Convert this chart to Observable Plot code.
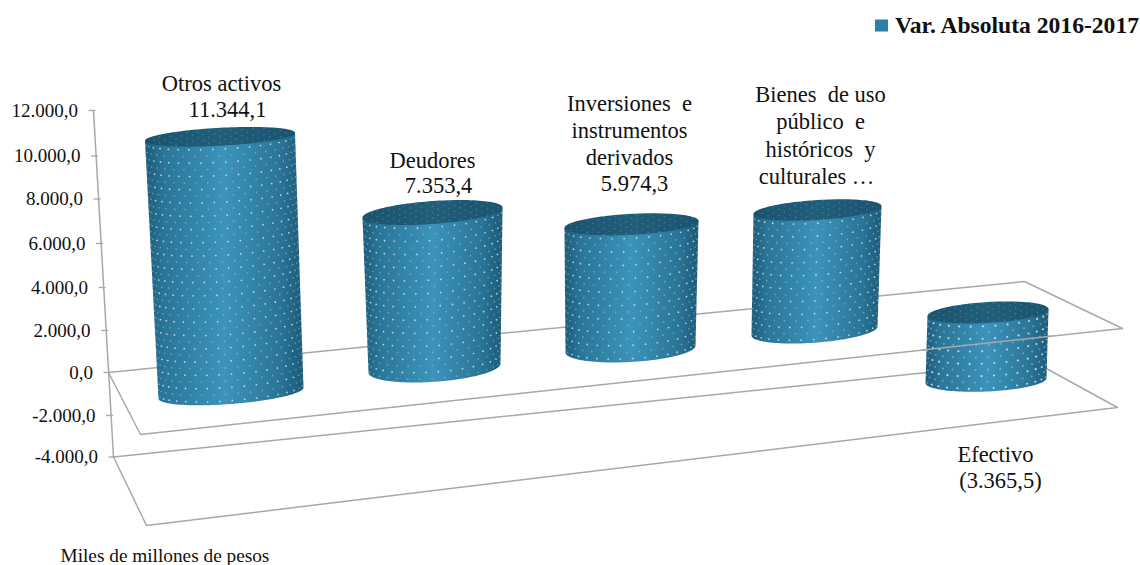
<!DOCTYPE html>
<html><head><meta charset="utf-8">
<script src="https://cdn.jsdelivr.net/npm/d3@7"></script>
<script src="https://cdn.jsdelivr.net/npm/@observablehq/plot@0.6"></script>
<style>html,body{margin:0;padding:0;background:#fff}svg{display:block}</style>
</head><body><div id="chart"></div>
<script>
// DATA
const categories = ["Otros activos", "Deudores", "Inversiones e instrumentos derivados", "Bienes de uso público e históricos y culturales", "Efectivo"];
const values = [11344.1, 7353.4, 5974.3, 5850, -3365.5];
const labelLines = [
  ["Otros activos", "11.344,1"],
  ["Deudores", "7.353,4"],
  ["Inversiones  e", "instrumentos", "derivados", "5.974,3"],
  ["Bienes  de uso", "público  e", "históricos  y", "culturales …"],
  ["Efectivo", "(3.365,5)"]
];
const yTicks = [-4000, -2000, 0, 2000, 4000, 6000, 8000, 10000, 12000];
const yTickLabels = ["-4.000,0", "-2.000,0", "0,0", "2.000,0", "4.000,0", "6.000,0", "8.000,0", "10.000,0", "12.000,0"];
const legendLabel = "Var. Absoluta 2016-2017";
const unitsNote = "Miles de millones de pesos";

// LAYOUT of the pseudo-3D scene
const W = 1140, H = 565;
const yTickPx = [456.5, 415, 372, 330, 287, 243, 198.5, 155.5, 110];
const yPx = d3.scaleLinear().domain(yTicks).range(yTickPx);
const vAt = p => yPx.invert(p);
const wallX = v => 113 - (v + 4000) / 16000 * 20;
const zeroEndPx = [392.5, 367.5, 348.5, 330.5, 312];
const perspective = [1.04, 0.976, 0.961, 0.945, 0.954];
const zeroX = [230.5, 434, 630, 814, 987.5];
const valueX = [219.5, 432, 631, 817, 985.5];
const upper = [{rx:75,tilt:4,ry:9},{rx:70,tilt:5,ry:11.5},{rx:67,tilt:3.5,ry:10.5},{rx:64,tilt:4,ry:10},{rx:60.5,tilt:3.5,ry:10.5}];
const lower = [{rx:72.5,tilt:5.5,ry:11},{rx:66,tilt:4.5,ry:13.8},{rx:65,tilt:3.5,ry:13},{rx:63,tilt:4.5,ry:11.7},{rx:60.5,tilt:2.5,ry:11}];
const labelX = [[221,227],[432,438],[629,629,629,634],[820,820,820,816],[995,1000]];
const labelPx = [[83.5,109.5],[160.5,185.5],[103.5,130.5,157.5,183.5],[94.5,121.5,149.5,176.5],[454.5,480.5]];
const dotScale = [0.85, 0.85, 0.85, 0.85, 1.05];

const pt = (e, t) => ({x: e.cx + e.rx * Math.cos(t), y: vAt(e.cy - e.tilt * Math.cos(t) + e.ry * Math.sin(t))});

const cylinders = values.map((v, i) => {
  const zeroV = vAt(zeroEndPx[i]);
  const endPx = yPx(zeroV + perspective[i] * v);
  const zeroC = {cx: zeroX[i], cy: zeroEndPx[i]}, endC = {cx: valueX[i], cy: endPx};
  const up = v >= 0 ? endC : zeroC, lo = v >= 0 ? zeroC : endC;
  return {i, up: {...up, ...upper[i]}, lo: {...lo, ...lower[i]}};
});

const bodies = [], tops = [], dotsA = [], dotsB = [], topDots = [];
for (const c of cylinders) {
  const N = 60;
  for (let k = N; k >= 0; k--) bodies.push({id: c.i, ...pt(c.lo, Math.PI * k / N)});
  bodies.push({id: c.i, ...pt(c.up, 0)});
  bodies.push({id: c.i, ...pt(c.up, Math.PI)});
  for (let k = 0; k <= 2 * N; k++) tops.push({id: c.i, ...pt(c.up, Math.PI * k / N)});
  const spanPx = c.lo.cy - c.up.cy;
  const rowGap = 6.6, rows = Math.floor(spanPx / rowGap);
  for (let j = 0; j <= rows; j++) {
    const s = (j + 0.5) / (rows + 1);
    const e = {cx: c.up.cx + (c.lo.cx - c.up.cx) * s, cy: c.up.cy + spanPx * s,
      rx: c.up.rx + (c.lo.rx - c.up.rx) * s, tilt: c.up.tilt + (c.lo.tilt - c.up.tilt) * s, ry: c.up.ry + (c.lo.ry - c.up.ry) * s};
    const dt = 12.5 / e.rx;
    for (let t = (j % 2 ? dt / 2 : dt); t < Math.PI - 0.06; t += dt) {
      ((Math.round(t / dt * 2) % 2 === 0) ? dotsA : dotsB).push({...pt(e, t), r: dotScale[c.i], a: Math.sin(t)});
    }
  }
  const e = c.up;
  for (let j = -3; j <= 3; j++) {
    const a = j * 3 / e.ry;
    if (Math.abs(a) >= 1) continue;
    const w = Math.sqrt(1 - a * a);
    for (let q = -12; q <= 12; q++) {
      const u = (q + (j & 1) * 0.5) * 11 / e.rx;
      if (Math.abs(u) >= w * 0.97) continue;
      topDots.push({x: e.cx + e.rx * u, y: vAt(e.cy - e.tilt * u + j * 3)});
    }
  }
}

const labelRows = labelLines.flatMap((lines, i) => lines.map((text, j) => ({text, x: labelX[i][j], y: vAt(labelPx[i][j])})));
const tickRows = yTicks.map((v, i) => ({v, label: yTickLabels[i], x: wallX(v)}));

const C = (x, p) => ({x, y: vAt(p)});
const frameBack = [
  [C(93, 110), C(113, 456.5)],
  [C(108, 372), C(1024, 281), C(1122, 328)],
  [C(108, 372), C(140, 434), C(1122, 328)],
  [C(113, 456.5), C(1033, 361), C(1117, 407), C(146, 525), C(113, 456.5)]
].flatMap((seg, id) => seg.map(p => ({...p, id})));
// the stretch of the zero plane's front edge that passes in front of the negative cylinder
const frontY = x => 434 + (328 - 434) * (x - 140) / (1122 - 140);
const frameFront = [C(922, frontY(922)), C(1052, frontY(1052))];

const serif = "Liberation Serif";
const chart = Plot.plot({
  width: W, height: H,
  marginTop: 0, marginRight: 0, marginBottom: 0, marginLeft: 0,
  x: {type: "linear", domain: [0, W], range: [0, W], axis: null},
  y: {type: "linear", domain: yTicks, range: yTickPx, axis: null},
  r: {type: "identity"},
  style: {background: "#fff", fontFamily: serif, color: "#111"},
  marks: [
    Plot.line(frameBack, {x: "x", y: "y", z: "id", stroke: "#a8a8a8", strokeWidth: 1.5, curve: "linear"}),
    Plot.link(tickRows, {x1: d => d.x - 5, x2: d => d.x + 2, y1: "v", y2: "v", stroke: "#a8a8a8", strokeWidth: 1.3}),
    Plot.text(tickRows, {x: d => d.x - 15.5, y: "v", text: "label", textAnchor: "end", fontSize: 19, fill: "#111"}),
    Plot.line(bodies, {x: "x", y: "y", z: "id", fill: "url(#bodyGrad)", stroke: "none", curve: "linear"}),
    Plot.dot(dotsA.filter(d => d.a > 0.35), {x: "x", y: "y", r: "r", fill: "#fff", fillOpacity: 0.72, stroke: "none"}),
    Plot.dot(dotsA.filter(d => d.a <= 0.35), {x: "x", y: "y", r: "r", fill: "#fff", fillOpacity: 0.35, stroke: "none"}),
    Plot.dot(dotsB, {x: "x", y: "y", r: "r", fill: "#fff", fillOpacity: 0.3, stroke: "none"}),
    Plot.line(tops, {x: "x", y: "y", z: "id", fill: "url(#capGrad)", stroke: "none", curve: "linear"}),
    Plot.dot(topDots, {x: "x", y: "y", r: 0.8, fill: "#fff", fillOpacity: 0.2, stroke: "none"}),
    Plot.line(frameFront, {x: "x", y: "y", stroke: "#a8a8a8", strokeWidth: 1.5}),
    Plot.text(labelRows, {x: "x", y: "y", text: "text", fontSize: 22.5, fill: "#111"}),
    Plot.rect([{x1: 875, x2: 888, y1: vAt(19.5), y2: vAt(31.5)}], {x1: "x1", x2: "x2", y1: "y1", y2: "y2", fill: "#2f7fa6"}),
    Plot.text([legendLabel], {x: 1138.5, y: vAt(25), text: d => d, textAnchor: "end", fontSize: 23.6, fontWeight: "bold", fill: "#111"}),
    Plot.text([unitsNote], {x: 60, y: vAt(555.5), text: d => d, textAnchor: "start", fontSize: 19.3, fill: "#111"})
  ]
});
chart.insertAdjacentHTML("afterbegin", `<defs>
<linearGradient id="bodyGrad" x1="0" x2="1" y1="0" y2="0">
<stop offset="0" stop-color="#1c5b7a"/><stop offset="0.12" stop-color="#2a7698"/><stop offset="0.5" stop-color="#3c93bb"/><stop offset="0.85" stop-color="#2a7597"/><stop offset="1" stop-color="#1b5a78"/>
</linearGradient>
<linearGradient id="capGrad" x1="0" x2="1" y1="0" y2="0">
<stop offset="0" stop-color="#1a5370"/><stop offset="0.5" stop-color="#205e7a"/><stop offset="1" stop-color="#1a5370"/>
</linearGradient></defs>`);
document.getElementById("chart").append(chart);
</script></body></html>
